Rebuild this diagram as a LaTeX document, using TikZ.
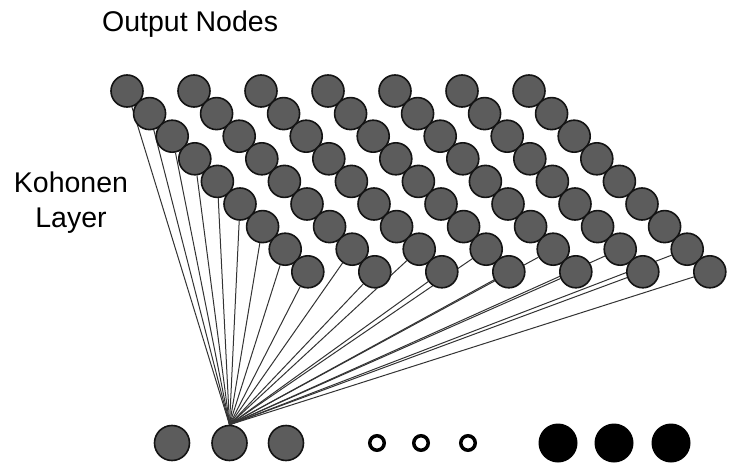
\documentclass[tikz,border=0pt]{standalone}
\usepackage{fontspec}
\setmainfont{Liberation Sans}
\usetikzlibrary{backgrounds}
\begin{document}
\begin{tikzpicture}[x=1pt,y=-1pt,
  unit/.style={circle, fill=black!64, draw=black!92, line width=1.6pt,
               minimum size=32pt, inner sep=0pt},
  inunit/.style={unit, minimum size=35pt},
  ring/.style={circle, draw=black, line width=3.5pt, minimum size=14.5pt, inner sep=0pt},
  dot/.style={circle, fill=black, minimum size=39pt, inner sep=0pt},
  link/.style={draw=black!80, line width=1pt},
  lbl/.style={font=\fontsize{28.5}{35}\selectfont, inner sep=0pt}]
\useasboundingbox (0,0) rectangle (733,465);

% labels
\node[lbl, anchor=base west] (outlbl) at (102,32) {Output Nodes};
\node[lbl, align=center, anchor=base] (laylbl) at (71,227) {Kohonen\\Layer};

% Kohonen layer: 7 diagonal rows of 9 units
\foreach \c in {0,...,6}
  \foreach \r in {0,...,8}
    \node[unit] (g-\c-\r) at ({127+67*\c+22.6*\r},{91+22.6*\r}) {};

% input layer
\node[inunit] (in1) at (172,443) {};
\node[inunit] (in2) at (229.5,443) {};
\node[inunit] (in3) at (286,443) {};
\node[ring] (r1) at (377,443) {};
\node[ring] (r2) at (421,443) {};
\node[ring] (r3) at (468,443) {};
\node[dot] (d1) at (558,443) {};
\node[dot] (d2) at (614,443) {};
\node[dot] (d3) at (671,443) {};

% weights from one input to the visible units
\begin{pgfonlayer}{background}
  \foreach \r in {0,...,8}
    \draw[link] (in2.north) -- (g-0-\r);
  \foreach \c in {1,...,6}
    \foreach \r in {7,8}
      \draw[link] (in2.north) -- (g-\c-\r);
\end{pgfonlayer}
\end{tikzpicture}
\end{document}
